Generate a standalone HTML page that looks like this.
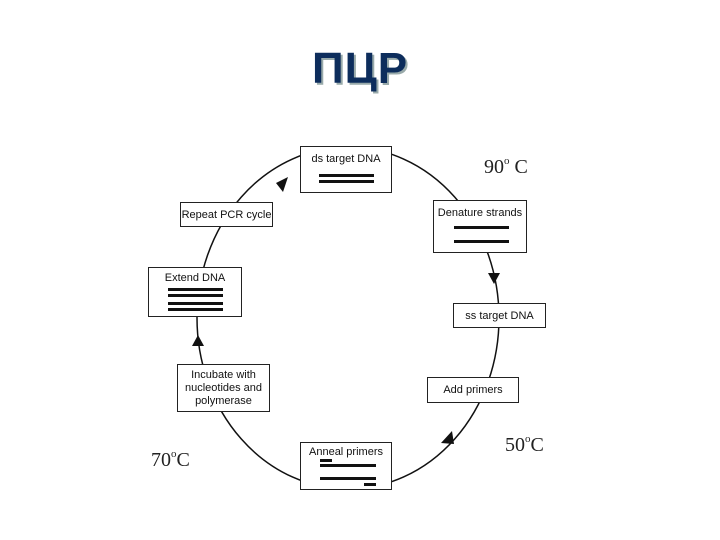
<!DOCTYPE html>
<html><head><meta charset="utf-8"><style>
body{margin:0;width:720px;height:540px;background:#fff;position:relative;overflow:hidden;font-family:"Liberation Sans",sans-serif}
.t{position:absolute;left:0;width:720px;top:44px;text-align:center;font-size:44px;font-weight:bold;color:#0d2d5c;text-shadow:2px 2px 0 #9aa;letter-spacing:1px}
.b{position:absolute;background:#fff;border:1px solid #222;box-sizing:border-box;font-size:11px;text-align:center;color:#111;line-height:13px}
.l{position:absolute;background:#111;height:3px}
.c{position:absolute;font-family:"Liberation Serif",serif;font-size:20px;color:#222}
.c sup{font-size:11px;vertical-align:9px}
</style></head><body>
<div class="t">ПЦР</div>
<svg width="720" height="540" style="position:absolute;left:0;top:0">
<ellipse cx="348" cy="318" rx="151" ry="171" fill="none" stroke="#111" stroke-width="1.5"/>
<polygon points="288,177 276,183 283,192" fill="#111"/>
<polygon points="488,273 500,273 494,284" fill="#111"/>
<polygon points="452,431 454,444 441,443" fill="#111"/>
<polygon points="198,335 192,346 204,346" fill="#111"/>
</svg>
<div class="b" style="left:300px;top:146px;width:92px;height:47px;padding-top:6px">ds target DNA</div>
<div class="l" style="left:319px;top:174px;width:55px"></div><div class="l" style="left:319px;top:180px;width:55px"></div>
<div class="b" style="left:433px;top:200px;width:94px;height:53px;padding-top:6px">Denature strands</div>
<div class="l" style="left:454px;top:226px;width:55px"></div><div class="l" style="left:454px;top:240px;width:55px"></div>
<div class="b" style="left:453px;top:303px;width:93px;height:25px;padding-top:6px">ss target DNA</div>
<div class="b" style="left:427px;top:377px;width:92px;height:26px;padding-top:6px">Add primers</div>
<div class="b" style="left:300px;top:442px;width:92px;height:48px;padding-top:3px">Anneal primers</div>
<div class="l" style="left:320px;top:459px;width:12px"></div><div class="l" style="left:320px;top:464px;width:56px"></div>
<div class="l" style="left:320px;top:477px;width:56px"></div><div class="l" style="left:364px;top:483px;width:12px"></div>
<div class="b" style="left:177px;top:364px;width:93px;height:48px;padding-top:4px">Incubate with<br>nucleotides and<br>polymerase</div>
<div class="b" style="left:148px;top:267px;width:94px;height:50px;padding-top:4px">Extend DNA</div>
<div class="l" style="left:168px;top:288px;width:55px"></div><div class="l" style="left:168px;top:294px;width:55px"></div>
<div class="l" style="left:168px;top:302px;width:55px"></div><div class="l" style="left:168px;top:308px;width:55px"></div>
<div class="b" style="left:180px;top:202px;width:93px;height:25px;padding-top:6px">Repeat PCR cycle</div>
<div class="c" style="left:484px;top:155px">90<sup>o</sup> C</div>
<div class="c" style="left:505px;top:433px">50<sup>o</sup>C</div>
<div class="c" style="left:151px;top:448px">70<sup>o</sup>C</div>
</body></html>
